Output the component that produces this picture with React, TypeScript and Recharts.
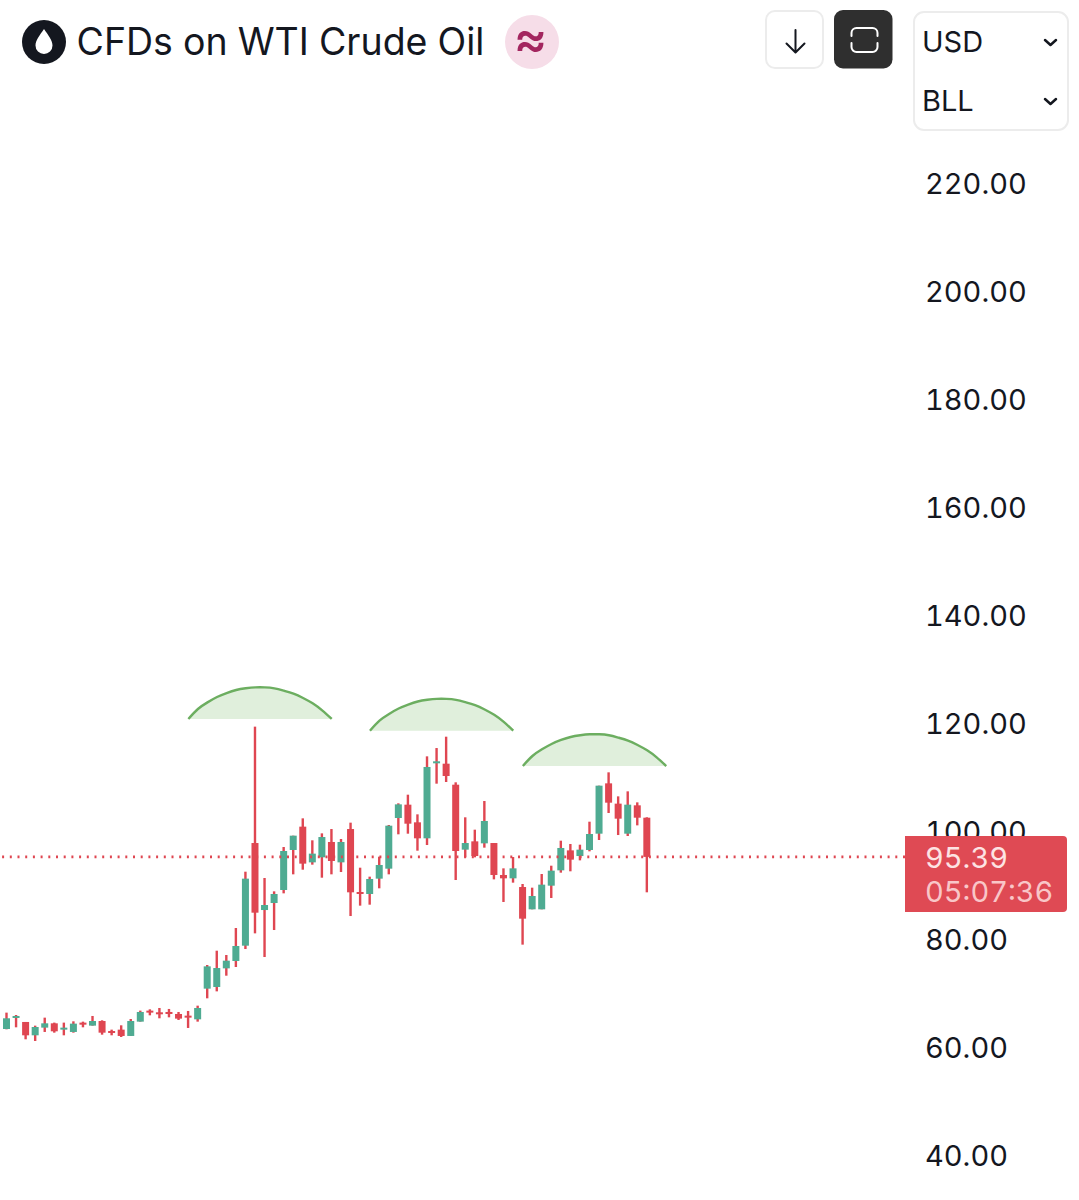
import React from "react";
import {
  ComposedChart,
  Bar,
  Area,
  Line,
  XAxis,
  YAxis,
  ReferenceLine,
} from "recharts";

const opens = [
  63.52, 65.56, 64.82, 62.35, 63.77, 64.57, 63.4, 62.97, 64.7, 64.14, 65.0, 63.15, 63.4, 62.23, 64.88, 66.92, 66.61,
  66.67, 66.3, 65.99, 65.31, 70.99, 71.3, 74.75, 76.11, 78.95, 97.96, 85.55, 86.85, 89.26, 96.67, 100.99, 94.38, 95.31,
  98.15, 94.38, 100.55, 88.89, 88.52, 91.36, 93.21, 102.59, 105.06, 101.79, 98.83, 112.72, 112.65, 108.76, 96.73, 98.27,
  97.9, 97.96, 92.04, 91.42, 89.81, 85.68, 85.68, 90.06, 92.9, 96.6, 95.55, 96.67, 99.69, 109.01, 105.25, 99.69, 104.94,
  102.65,
];
const closes = [
  65.5, 65.93, 62.35, 63.89, 64.57, 63.09, 63.77, 64.51, 64.32, 65.0, 62.84, 62.78, 62.23, 65.0, 66.67, 66.61, 66.24,
  66.3, 65.44, 65.68, 67.41, 75.12, 74.81, 76.17, 78.89, 91.36, 85.06, 86.48, 88.52, 96.48, 99.32, 94.14, 95.99, 99.07,
  94.63, 98.15, 88.83, 88.52, 91.3, 93.89, 101.17, 105.12, 101.54, 98.83, 112.04, 113.09, 110.37, 96.48, 97.96, 95.55,
  102.04, 92.04, 91.42, 93.27, 83.95, 88.15, 90.25, 92.84, 97.04, 94.88, 96.73, 99.63, 108.58, 105.43, 102.47, 105.06,
  102.65, 95.39,
];
const highs = [
  66.55, 66.11, 64.82, 64.14, 65.62, 64.7, 64.7, 64.94, 64.88, 65.93, 65.13, 63.4, 64.2, 65.37, 66.92, 67.16, 67.41,
  67.23, 66.67, 66.86, 67.84, 75.37, 78.02, 77.22, 82.22, 92.65, 119.51, 91.48, 89.01, 97.22, 99.32, 102.53, 98.46,
  99.75, 100.55, 98.7, 101.73, 93.39, 91.73, 95.43, 101.3, 105.31, 106.91, 103.27, 114.01, 115.55, 117.65, 109.2,
  102.72, 100.43, 105.74, 97.96, 93.27, 95.37, 90.37, 89.69, 92.22, 93.76, 98.39, 97.78, 97.65, 101.91, 108.58, 111.05,
  106.6, 107.53, 105.49, 102.72,
];
const lows = [
  63.46, 63.83, 61.61, 61.3, 62.97, 62.84, 62.35, 62.84, 63.83, 64.14, 62.47, 62.35, 62.04, 62.23, 64.88, 66.05, 65.5,
  65.68, 65.19, 63.71, 64.88, 69.2, 70.49, 73.39, 75.0, 78.33, 81.23, 76.85, 81.85, 88.64, 92.16, 93.02, 93.95, 91.54,
  92.16, 92.59, 84.44, 86.36, 86.54, 89.57, 92.16, 99.57, 99.69, 96.54, 97.59, 108.95, 109.26, 91.11, 95.31, 95.31,
  97.1, 91.23, 87.04, 90.62, 79.14, 85.68, 85.68, 87.78, 92.47, 92.72, 94.75, 96.42, 98.52, 103.52, 99.44, 99.26,
  101.23, 88.83,
];

// the three domes, one value per candle slot
const domeOneStart = 19;
const domeOne = [
  120.93, 122.78, 124.01, 125.0, 125.74, 126.3, 126.61, 126.79, 126.79, 126.61, 126.17, 125.62, 124.82, 123.83, 122.53,
  120.93,
];
const domeTwoStart = 38;
const domeTwo = [
  118.76, 120.63, 121.87, 122.87, 123.61, 124.17, 124.48, 124.66, 124.66, 124.48, 124.04, 123.49, 122.69, 121.7,
  120.39, 118.76,
];
const domeThreeStart = 54;
const domeThree = [
  112.22, 114.07, 115.31, 116.3, 117.04, 117.6, 117.91, 118.09, 118.09, 117.91, 117.47, 116.92, 116.12, 115.13, 113.83,
  112.22,
];

const priceTicks = [40, 60, 80, 100, 120, 140, 160, 180, 200, 220];
const lastPrice = 95.39;
const SLOTS = 70;

const UP = "#4fab92";
const DOWN = "#df4651";
const FONT = "Inter, sans-serif";

const chartData = Array.from({ length: SLOTS }, (_, i) => {
  const one = domeOne[i - domeOneStart];
  const two = domeTwo[i - domeTwoStart];
  const three = domeThree[i - domeThreeStart];
  return {
    slot: i,
    open: opens[i],
    close: closes[i],
    range: i < opens.length ? [lows[i], highs[i]] : undefined,
    one,
    two,
    three,
    oneBand: one !== undefined ? [domeOne[0], one] : undefined,
    twoBand: two !== undefined ? [domeTwo[0], two] : undefined,
    threeBand: three !== undefined ? [domeThree[0], three] : undefined,
  };
});

function Candle(props: any) {
  const { x, y, width, height, payload } = props;
  if (!payload || !payload.range) return null;
  const [low, high] = payload.range;
  const perUnit = height / (high - low);
  const top = y + (high - Math.max(payload.open, payload.close)) * perUnit;
  const bottom = y + (high - Math.min(payload.open, payload.close)) * perUnit;
  const color = payload.close >= payload.open ? UP : DOWN;
  const mid = x + width / 2;
  return (
    <g>
      <rect x={mid - 1.2} y={y} width={2.4} height={height} fill={DOWN} />
      <rect x={x} y={top} width={width} height={Math.max(bottom - top, 2)} fill={color} />
    </g>
  );
}

const label: React.CSSProperties = { position: "absolute", fontFamily: FONT, whiteSpace: "nowrap" };

function Header() {
  return (
    <>
      <svg width={1079} height={140} style={{ position: "absolute", left: 0, top: 0 }}>
        <circle cx={44} cy={42} r={22} fill="#14171f" />
        <path d="M44 29 C48 35 52.5 40 52.5 45.5 A8.5 8.5 0 0 1 35.5 45.5 C35.5 40 40 35 44 29 Z" fill="#fff" />
        <circle cx={532} cy={42} r={27} fill="#f6dde8" />
        <rect x={766} y={11} width={57} height={57} rx={9} fill="#fff" stroke="#ececec" strokeWidth={2} />
        <path
          d="M795.5 30 V52 M786.5 43.5 L795.5 52.5 L804.5 43.5"
          fill="none"
          stroke="#14171f"
          strokeWidth={2}
          strokeLinecap="round"
          strokeLinejoin="round"
        />
        <rect x={834} y={10} width={58.5} height={58.5} rx={9} fill="#2f2f2f" />
        <path
          d="M851.5 36 V33 A5 5 0 0 1 856.5 28 H872.5 A5 5 0 0 1 877.5 33 V36 M851.5 43 V47 A5 5 0 0 0 856.5 52 H872.5 A5 5 0 0 0 877.5 47 V43"
          fill="none"
          stroke="#fff"
          strokeWidth={2}
          strokeLinecap="round"
        />
        <rect x={914} y={12} width={154} height={118} rx={10} fill="#fff" stroke="#ececec" strokeWidth={2} />
        <path
          d="M1045 40 L1050.5 45 L1056 40 M1045 99 L1050.5 104 L1056 99"
          fill="none"
          stroke="#14171f"
          strokeWidth={2.5}
          strokeLinecap="round"
          strokeLinejoin="round"
        />
      </svg>
      <div style={{ ...label, left: 76.5, top: 18, fontSize: 37.5, lineHeight: "48px", color: "#14171f" }}>
        CFDs on WTI Crude Oil
      </div>
      <div style={{ ...label, left: 514, top: 9, fontSize: 51, lineHeight: "58px", fontWeight: 500, color: "#a3265f" }}>
        ≈
      </div>
      <div style={{ ...label, left: 922, top: 23.5, fontSize: 29, lineHeight: "36px", color: "#14171f" }}>USD</div>
      <div style={{ ...label, left: 922, top: 82.5, fontSize: 29, lineHeight: "36px", color: "#14171f" }}>BLL</div>
    </>
  );
}

export default function App() {
  return (
    <div style={{ position: "absolute", left: 0, top: 0, width: 1079, height: 1200, background: "#fff", overflow: "hidden", fontFeatureSettings: '"tnum"' }}>
      <ComposedChart
        width={1079}
        height={1200}
        data={chartData}
        margin={{ top: 130, right: 0, bottom: 17, left: 0 }}
        style={{ position: "absolute", left: 0, top: 0 }}
      >
        <XAxis dataKey="slot" hide padding={{ left: 2, right: 234 }} />
        <YAxis
          orientation="right"
          width={174}
          domain={[35, 230]}
          ticks={priceTicks}
          interval={0}
          axisLine={false}
          tickLine={false}
          tickMargin={21}
          tickFormatter={(v: number) => v.toFixed(2)}
          tick={{ fill: "#14171f", fontSize: 29, fontFamily: FONT, dx: -7 }}
        />
        <Area dataKey="oneBand" stroke="none" fill="#e0efdc" fillOpacity={1} type="natural" isAnimationActive={false} />
        <Area dataKey="twoBand" stroke="none" fill="#e0efdc" fillOpacity={1} type="natural" isAnimationActive={false} />
        <Area dataKey="threeBand" stroke="none" fill="#e0efdc" fillOpacity={1} type="natural" isAnimationActive={false} />
        <Line dataKey="one" stroke="#6cae60" strokeWidth={2.4} dot={false} type="natural" isAnimationActive={false} />
        <Line dataKey="two" stroke="#6cae60" strokeWidth={2.4} dot={false} type="natural" isAnimationActive={false} />
        <Line dataKey="three" stroke="#6cae60" strokeWidth={2.4} dot={false} type="natural" isAnimationActive={false} />
        <Bar dataKey="range" barSize={7} shape={Candle} isAnimationActive={false} />
        <ReferenceLine y={lastPrice} stroke={DOWN} strokeWidth={2.6} strokeDasharray="2 5.7" />
      </ComposedChart>
      <Header />
      <div
        style={{
          position: "absolute",
          left: 905,
          top: 836,
          width: 162,
          height: 76,
          background: "#df4a54",
          borderRadius: "0 4px 4px 0",
        }}
      />
      <div style={{ ...label, left: 925, top: 840, fontSize: 29, lineHeight: "36px", color: "#fde3e3" }}>95.39</div>
      <div style={{ ...label, left: 925, top: 874, fontSize: 29, lineHeight: "36px", color: "#f9c6c8" }}>05:07:36</div>
    </div>
  );
}
